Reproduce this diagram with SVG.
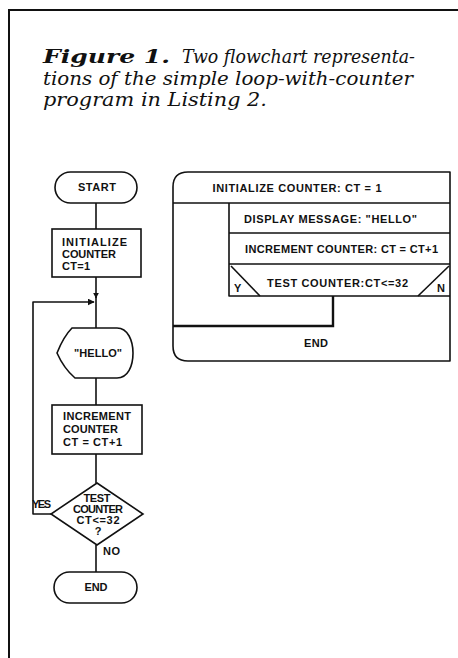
<svg xmlns="http://www.w3.org/2000/svg" width="458" height="658" viewBox="0 0 458 658">
<defs>
<style>
.ln{fill:none;stroke:#111;stroke-width:1.6;stroke-linejoin:round}
.thk{fill:none;stroke:#111;stroke-width:2.4}
.sh{fill:#fff;stroke:#111;stroke-width:1.6}
.lb{font-family:"Liberation Sans",Arial,sans-serif;font-weight:bold;font-size:11px;fill:#111}
.c{text-anchor:middle}
.tt{font-family:"DejaVu Serif","Liberation Serif",serif;font-style:italic;font-size:18px;fill:#111}
</style>
<marker id="ar" viewBox="0 0 10 10" refX="9" refY="5" markerWidth="7" markerHeight="7" orient="auto" markerUnits="userSpaceOnUse"><path d="M0,0 L10,5 L0,10 z" fill="#111"/></marker>
<marker id="ad" viewBox="0 0 10 10" refX="9" refY="5" markerWidth="6" markerHeight="6" orient="auto" markerUnits="userSpaceOnUse"><path d="M0,0 L10,5 L0,10 z" fill="#111"/></marker>
</defs>
<rect width="458" height="658" fill="#fff"/>
<g id="frame">
<path d="M9,658 L9,10 L458,10" fill="none" stroke="#111" stroke-width="2"/>
</g>
<g id="caption">
<text class="tt" x="43" y="63"><tspan font-weight="bold" font-size="19" textLength="127" lengthAdjust="spacingAndGlyphs">Figure 1.</tspan><tspan x="182" textLength="233" lengthAdjust="spacingAndGlyphs">Two flowchart representa-</tspan></text>
<text class="tt" x="43" y="85" textLength="370" lengthAdjust="spacingAndGlyphs">tions of the simple loop-with-counter</text>
<text class="tt" x="43" y="106" textLength="224" lengthAdjust="spacingAndGlyphs">program in Listing 2.</text>
</g>
<g id="connectors">
<line class="ln" x1="96" y1="203" x2="96" y2="229"/>
<line class="ln" x1="96" y1="277" x2="96" y2="298" marker-end="url(#ad)"/>
<line class="ln" x1="96" y1="296" x2="96" y2="328"/>
<line class="ln" x1="96" y1="378" x2="96" y2="405"/>
<line class="ln" x1="96" y1="454" x2="96" y2="483"/>
<line class="ln" x1="96" y1="545" x2="96" y2="572"/>
<polyline class="ln" points="51,514 33,514 33,302 94,302" marker-end="url(#ar)"/>
</g>
<g id="start">
<rect class="sh" x="55" y="172" width="82" height="31" rx="15.5"/>
<text class="lb c" x="97" y="191" textLength="38">START</text>
</g>
<g id="init">
<rect class="sh" x="52" y="229" width="89" height="48"/>
<text class="lb" x="62" y="246" textLength="65">INITIALIZE</text>
<text class="lb" x="62" y="258" textLength="54">COUNTER</text>
<text class="lb" x="62" y="270" textLength="28">CT=1</text>
</g>
<g id="hello">
<path class="sh" d="M72,328 L117,328 C128,328 133,341 133,353 C133,366 128,378 117,378 L75,378 C68,372 61,362 57,353 C61,343 66,334 72,328 Z"/>
<text class="lb c" x="98" y="357" textLength="48">"HELLO"</text>
</g>
<g id="increment">
<rect class="sh" x="52" y="405" width="90" height="49"/>
<text class="lb" x="63" y="420" textLength="68">INCREMENT</text>
<text class="lb" x="63" y="433" textLength="55">COUNTER</text>
<text class="lb" x="63" y="446" textLength="59">CT = CT+1</text>
</g>
<g id="test">
<path class="sh" d="M97,483 L143,514 L97,545 L51,514 Z"/>
<text class="lb c" x="97" y="502" textLength="27">TEST</text>
<text class="lb c" x="98" y="513" textLength="50">COUNTER</text>
<text class="lb c" x="98" y="524" textLength="43">CT&lt;=32</text>
<text class="lb c" x="98" y="535">?</text>
<text class="lb" x="32" y="508" textLength="19">YES</text>
<text class="lb" x="103" y="555" textLength="17">NO</text>
</g>
<g id="end">
<rect class="sh" x="54" y="572" width="83" height="31" rx="15.5"/>
<text class="lb c" x="96" y="591" textLength="23">END</text>
</g>
<g id="nassi">
<path class="ln" d="M188,172 L450,172 L450,361 L188,361 Q173,361 173,346 L173,187 Q173,172 188,172 Z" fill="#fff"/>
<line class="ln" x1="173" y1="203" x2="450" y2="203"/>
<text class="lb c" x="297" y="192" textLength="169">INITIALIZE COUNTER: CT = 1</text>
<path class="ln" d="M229,203 L229,296 L450,296"/>
<line class="ln" x1="229" y1="233" x2="450" y2="233"/>
<text class="lb" x="244" y="223" textLength="173">DISPLAY MESSAGE: "HELLO"</text>
<line class="ln" x1="229" y1="264" x2="450" y2="264"/>
<text class="lb" x="245" y="253" textLength="193">INCREMENT COUNTER: CT = CT+1</text>
<line class="ln" x1="231" y1="266" x2="260" y2="296"/>
<line class="ln" x1="449" y1="266" x2="418" y2="296"/>
<text class="lb" x="267" y="287" textLength="141">TEST COUNTER:CT&lt;=32</text>
<text class="lb" x="234" y="292" font-size="9">Y</text>
<text class="lb" x="437" y="292" font-size="9">N</text>
<polyline class="thk" points="333,296 333,326 173,326"/>
<text class="lb c" x="316" y="347" textLength="24">END</text>
</g>
</svg>
